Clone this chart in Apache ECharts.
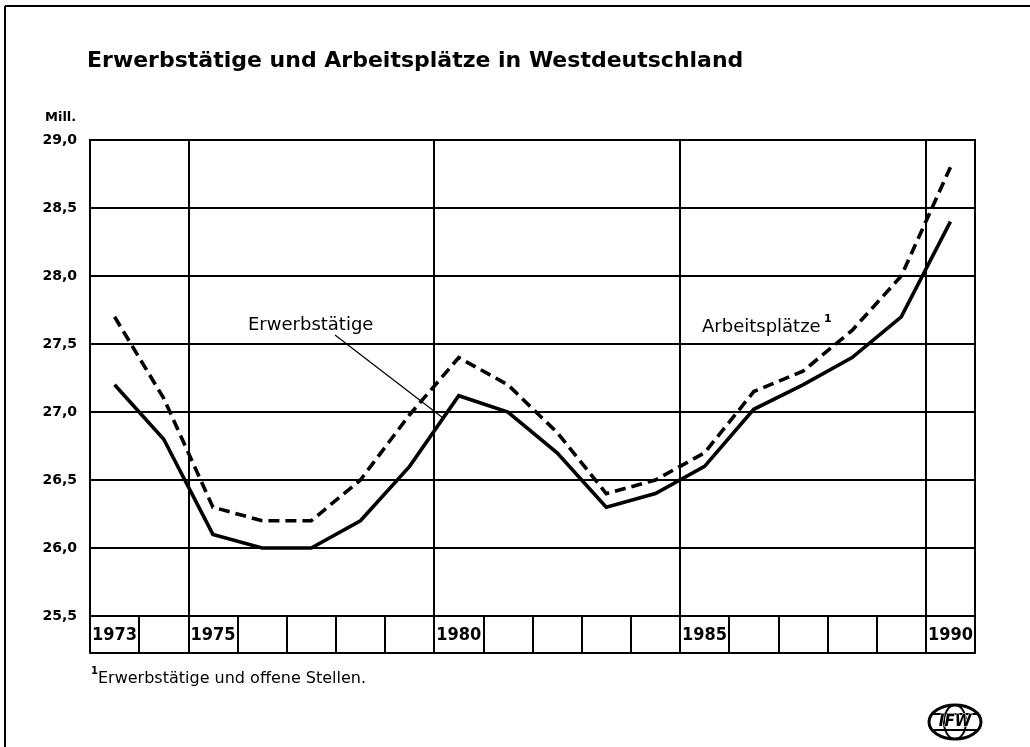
<!DOCTYPE html>
<html><head><meta charset="utf-8">
<script src="https://cdn.jsdelivr.net/npm/echarts@6/dist/echarts.min.js"></script>
<style>html,body{margin:0;padding:0;background:#fff}#c{width:1030px;height:747px}</style>
</head><body><div id="c"></div>
<script>
// ---- data ----
const years = ['1973','1974','1975','1976','1977','1978','1979','1980','1981','1982','1983','1984','1985','1986','1987','1988','1989','1990'];
const labelledYears = ['1973','1975','1980','1985','1990'];
const majorYears = ['1975','1980','1985','1990'];
const erwerbstaetige = [27.2, 26.8, 26.1, 26.0, 26.0, 26.2, 26.6, 27.12, 27.0, 26.7, 26.3, 26.4, 26.6, 27.02, 27.2, 27.4, 27.7, 28.4];
const arbeitsplaetze = [27.7, 27.1, 26.3, 26.2, 26.2, 26.5, 26.98, 27.4, 27.2, 26.85, 26.4, 26.5, 26.7, 27.15, 27.3, 27.6, 28.0, 28.8];
const yMin = 25.5, yMax = 29.0, yStep = 0.5;
const titleText = 'Erwerbstätige und Arbeitsplätze in Westdeutschland';
const unitText = 'Mill.';
const seriesNames = ['Erwerbstätige', 'Arbeitsplätze'];
const footnoteText = 'Erwerbstätige und offene Stellen.';

const F = '"DejaVu Sans", sans-serif';
const FC = '"DejaVu Sans Condensed", "DejaVu Sans", sans-serif';
const BLACK = '#000';

const chart = echarts.init(document.getElementById('c'), null, {renderer: 'canvas'});
chart.setOption({
  animation: false,
  backgroundColor: '#fff',
  grid: {left: 90, right: 55, top: 140, bottom: 131, show: true, borderColor: BLACK, borderWidth: 2, outerBoundsMode: 'none', containLabel: false},
  xAxis: [{
    type: 'category', data: years, boundaryGap: true, position: 'bottom',
    axisLine: {show: true, lineStyle: {color: BLACK, width: 2}},
    axisTick: {show: true, interval: 0, length: 37, inside: false, lineStyle: {color: BLACK, width: 2}},
    axisLabel: {interval: 0, margin: 19, verticalAlign: 'middle', color: BLACK, fontFamily: FC, fontSize: 18, fontWeight: 'bold',
      formatter: v => labelledYears.includes(v) ? v : ''},
    splitLine: {show: true, interval: (i, v) => majorYears.includes(v), lineStyle: {color: BLACK, width: 2}}
  }, {
    type: 'category', data: years, boundaryGap: true, position: 'bottom', offset: 37,
    axisLine: {show: true, lineStyle: {color: BLACK, width: 2}},
    axisTick: {show: false}, axisLabel: {show: false}, splitLine: {show: false}
  }],
  yAxis: {
    type: 'value', min: yMin, max: yMax, interval: yStep,
    axisLine: {show: true, lineStyle: {color: BLACK, width: 2}},
    axisTick: {show: false},
    axisLabel: {margin: 13, color: BLACK, fontFamily: F, fontSize: 14, fontWeight: 'bold',
      formatter: v => v.toFixed(1).replace('.', ',')},
    splitLine: {show: true, lineStyle: {color: BLACK, width: 2}}
  },
  series: [{
    name: seriesNames[0], type: 'line', data: erwerbstaetige, symbol: 'none', z: 5,
    lineStyle: {color: BLACK, width: 3.6, type: 'solid', join: 'miter'}
  }, {
    name: seriesNames[1], type: 'line', data: arbeitsplaetze, symbol: 'none', z: 5,
    lineStyle: {color: BLACK, width: 3.6, type: [11, 6], join: 'miter'}
  }],
  graphic: [
    {type: 'text', left: 87, top: 50, style: {text: titleText, fontFamily: F, fontSize: 22, fontWeight: 'bold', fill: BLACK}},
    {type: 'text', left: 45, top: 111, style: {text: unitText, fontFamily: F, fontSize: 13, fontWeight: 'bold', fill: BLACK}},
    {type: 'text', x: 248, y: 316, style: {text: seriesNames[0], fontFamily: F, fontSize: 18, fill: BLACK}},
    {type: 'line', shape: {x1: 335, y1: 335, x2: 443, y2: 418}, style: {stroke: BLACK, lineWidth: 1.2}, z: 10},
    {type: 'text', x: 702, y: 318, style: {text: seriesNames[1], fontFamily: F, fontSize: 18, fill: BLACK}},
    {type: 'text', x: 824, y: 314, style: {text: '1', fontFamily: F, fontSize: 11, fontWeight: 'bold', fill: BLACK}},
    {type: 'text', x: 91, y: 666, style: {text: '1', fontFamily: F, fontSize: 10, fontWeight: 'bold', fill: BLACK}},
    {type: 'text', x: 98, y: 671, style: {text: footnoteText, fontFamily: F, fontSize: 16, fill: BLACK}},
    // logo
    {type: 'ellipse', shape: {cx: 955, cy: 722, rx: 26, ry: 17}, style: {fill: '#fff', stroke: BLACK, lineWidth: 3}},
    {type: 'ellipse', shape: {cx: 955, cy: 722, rx: 11, ry: 17}, style: {fill: 'none', stroke: BLACK, lineWidth: 2}},
    {type: 'line', shape: {x1: 931, y1: 714, x2: 979, y2: 714}, style: {stroke: BLACK, lineWidth: 2}},
    {type: 'line', shape: {x1: 931, y1: 730, x2: 979, y2: 730}, style: {stroke: BLACK, lineWidth: 2}},
    {type: 'text', x: 955, y: 722, style: {text: 'IFW', fontFamily: F, fontSize: 15, fontWeight: 'bold', fontStyle: 'italic', fill: BLACK, stroke: '#fff', lineWidth: 1, align: 'center', verticalAlign: 'middle'}},
    // page frame
    {type: 'line', shape: {x1: 5, y1: 6, x2: 1030, y2: 6}, style: {stroke: BLACK, lineWidth: 2}},
    {type: 'line', shape: {x1: 5, y1: 6, x2: 5, y2: 747}, style: {stroke: BLACK, lineWidth: 2}}
  ]
});
</script></body></html>
